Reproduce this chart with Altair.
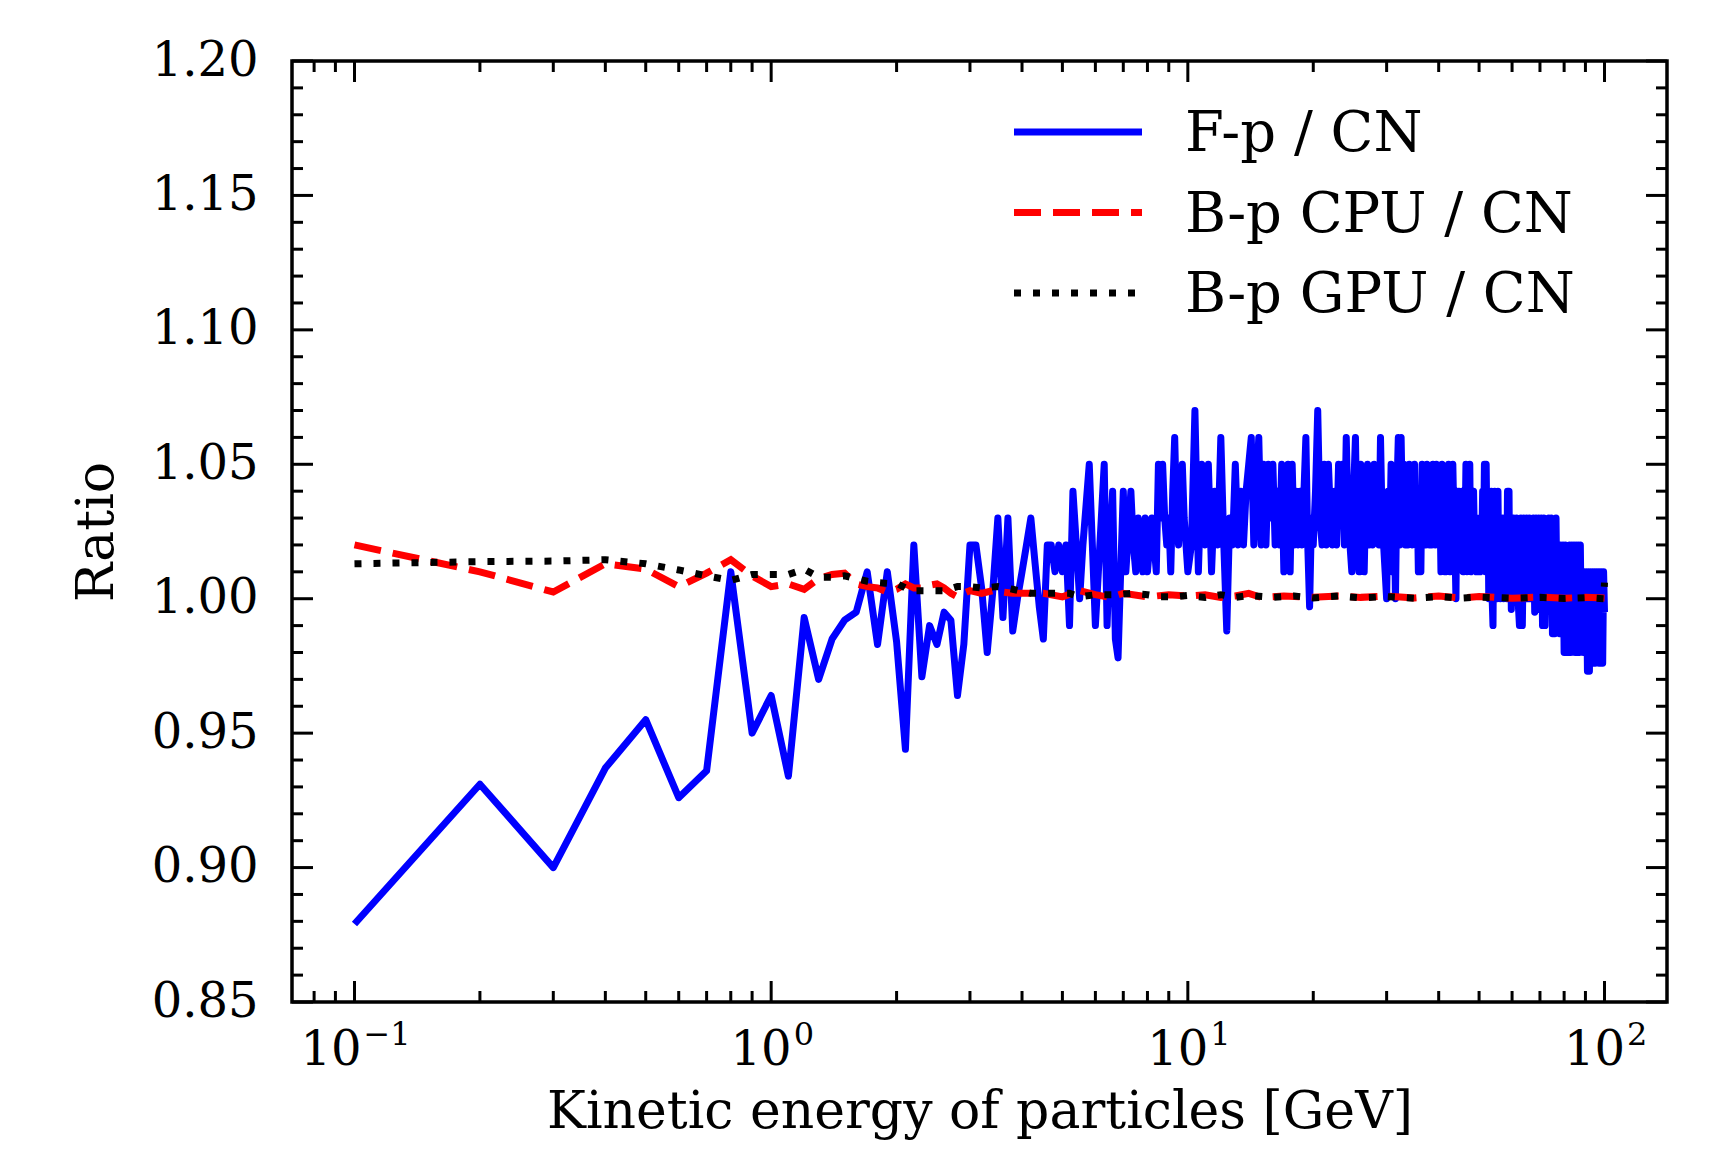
import altair as alt
import pandas as pd

# ---------------- data ----------------
series_names = ["F-p / CN", "B-p CPU / CN", "B-p GPU / CN"]

fp_energy_a = [0.1, 0.2, 0.3, 0.4, 0.5, 0.6, 0.7, 0.8, 0.9, 1.0,
               1.1, 1.2, 1.3, 1.4, 1.5, 1.6, 1.7, 1.8, 1.9, 2.0,
               2.1, 2.2, 2.3, 2.4, 2.5, 2.6, 2.7, 2.8, 2.9, 3.0,
               3.1, 3.2, 3.3, 3.4, 3.5, 3.6, 3.7, 3.8, 3.9, 4.0,
               4.1, 4.2, 4.3, 4.4, 4.5, 4.6, 4.7, 4.8, 4.9, 5.0,
               5.1, 5.2, 5.3, 5.4, 5.5, 5.6, 5.7, 5.8, 5.9, 6.0,
               6.1, 6.2, 6.3, 6.4, 6.5, 6.6, 6.7, 6.8, 6.9, 7.0,
               7.1, 7.2, 7.3, 7.4, 7.5, 7.6, 7.7, 7.8, 7.9, 8.0,
               8.1, 8.2, 8.3, 8.4, 8.5, 8.6, 8.7, 8.8, 8.9, 9.0,
               9.1, 9.2, 9.3, 9.4, 9.5, 9.6, 9.7, 9.8, 9.9, 10.0]
fp_ratio_a = [0.879, 0.931, 0.900, 0.937, 0.955, 0.926, 0.936, 1.010, 0.950, 0.964,
              0.934, 0.993, 0.970, 0.985, 0.992, 0.995, 1.010, 0.983, 1.010, 0.984,
              0.944, 1.020, 0.971, 0.990, 0.983, 0.995, 0.992, 0.964, 0.983, 1.020,
              1.020, 1.004, 0.980, 1.002, 1.030, 0.993, 1.030, 0.988, 1.000, 1.010,
              1.020, 1.030, 1.013, 0.997, 0.985, 1.020, 1.020, 1.010, 1.020, 1.010,
              1.020, 0.990, 1.040, 1.020, 1.000, 1.020, 1.035, 1.050, 1.020, 0.990,
              1.010, 1.030, 1.050, 0.990, 1.020, 1.040, 0.985, 0.978, 1.010, 1.040,
              1.010, 1.025, 1.040, 1.020, 1.010, 1.030, 1.020, 1.010, 1.030, 1.010,
              1.020, 1.030, 1.020, 1.010, 1.050, 1.030, 1.050, 1.030, 1.020, 1.030,
              1.010, 1.040, 1.060, 1.030, 1.020, 1.040, 1.050, 1.030, 1.020, 1.010]

fp_energy_b = [10.2, 10.4, 10.6, 10.8, 11.0, 11.2, 11.4, 11.6, 11.8, 12.0,
               12.2, 12.4, 12.6, 12.8, 13.0, 13.2, 13.4, 13.6, 13.8, 14.0,
               14.2, 14.4, 14.6, 14.8, 15.0, 15.2, 15.4, 15.6, 15.8, 16.0,
               16.2, 16.4, 16.6, 16.8, 17.0, 17.2, 17.4, 17.6, 17.8, 18.0,
               18.2, 18.4, 18.6, 18.8, 19.0, 19.2, 19.4, 19.6, 19.8, 20.0]
fp_ratio_b = [1.02, 1.07, 1.01, 1.05, 1.02, 1.05, 1.01, 1.04, 1.02, 1.06,
              1.02, 0.988, 1.03, 1.02, 1.05, 1.02, 1.04, 1.02, 1.04, 1.05,
              1.06, 1.02, 1.04, 1.06, 1.02, 1.05, 1.02, 1.05, 1.03, 1.05,
              1.02, 1.04, 1.02, 1.05, 1.01, 1.03, 1.05, 1.01, 1.05, 1.02,
              1.04, 1.02, 1.04, 1.02, 1.04, 1.06, 1.02, 0.997, 1.03, 1.02]

fp_energy_c = [20.25, 20.5, 20.75, 21.0, 21.25, 21.5, 21.75, 22.0, 22.25, 22.5, 22.75, 23.0,
               23.25, 23.5, 23.75, 24.0, 24.25, 24.5, 24.75, 25.0, 25.25, 25.5, 25.75, 26.0,
               26.25, 26.5, 26.75, 27.0, 27.25, 27.5, 27.75, 28.0, 28.25, 28.5, 28.75, 29.0,
               29.25, 29.5, 29.75, 30.0, 30.25, 30.5, 30.75, 31.0, 31.25, 31.5, 31.75, 32.0,
               32.25, 32.5, 32.75, 33.0, 33.25, 33.5, 33.75, 34.0, 34.25, 34.5, 34.75, 35.0,
               35.25, 35.5, 35.75, 36.0, 36.25, 36.5, 36.75, 37.0, 37.25, 37.5, 37.75, 38.0,
               38.25, 38.5, 38.75, 39.0, 39.25, 39.5, 39.75, 40.0, 40.25, 40.5, 40.75, 41.0,
               41.25, 41.5, 41.75, 42.0, 42.25, 42.5, 42.75, 43.0, 43.25, 43.5, 43.75, 44.0,
               44.25, 44.5, 44.75, 45.0, 45.25, 45.5, 45.75, 46.0, 46.25, 46.5, 46.75, 47.0,
               47.25, 47.5, 47.75, 48.0, 48.25, 48.5, 48.75, 49.0, 49.25, 49.5, 49.75, 50.0,
               50.25, 50.5, 50.75, 51.0, 51.25, 51.5, 51.75, 52.0, 52.25, 52.5, 52.75, 53.0,
               53.25, 53.5, 53.75, 54.0, 54.25, 54.5, 54.75, 55.0, 55.25, 55.5, 55.75, 56.0,
               56.25, 56.5, 56.75, 57.0, 57.25, 57.5, 57.75, 58.0, 58.25, 58.5, 58.75, 59.0,
               59.25, 59.5, 59.75, 60.0]
fp_ratio_c = [1.04, 1.07, 1.03, 1.02, 1.05, 1.02, 1.05, 1.03, 1.02, 1.04, 1.02, 1.05,
              1.03, 1.05, 1.02, 1.06, 1.03, 1.02, 1.01, 1.04, 1.06, 1.02, 1.01, 1.05,
              1.02, 1.01, 1.04, 1.05, 1.02, 1.04, 1.02, 1.05, 1.03, 1.04, 1.02, 1.06,
              1.03, 1.02, 1.01, 1.00, 1.04, 1.02, 1.05, 1.01, 1.04, 1.00, 1.04, 1.06,
              1.02, 1.06, 1.03, 1.05, 1.02, 1.04, 1.02, 1.05, 1.03, 1.02, 1.04, 1.05,
              1.02, 1.04, 1.01, 1.04, 1.01, 1.05, 1.02, 1.04, 1.02, 1.05, 1.03, 1.02,
              1.04, 1.02, 1.05, 1.03, 1.02, 1.05, 1.03, 1.02, 1.04, 1.01, 1.05, 1.02,
              1.04, 1.01, 1.04, 1.02, 1.05, 1.01, 1.03, 1.02, 1.05, 1.03, 1.02, 1.00,
              1.04, 1.02, 1.04, 1.02, 1.03, 1.04, 1.01, 1.03, 1.02, 1.05, 1.01, 1.04,
              1.02, 1.05, 1.01, 1.03, 1.02, 1.04, 1.02, 1.03, 1.01, 1.03, 1.02, 1.03,
              1.01, 1.03, 1.02, 1.04, 1.02, 1.05, 1.01, 1.05, 1.02, 1.04, 1.00, 1.04,
              1.01, 1.04, 1.00, 0.99, 1.03, 1.04, 1.01, 1.03, 1.00, 1.04, 1.01, 1.03,
              1.00, 1.03, 1.01, 1.03, 1.00, 1.03, 1.01, 1.03, 1.00, 1.04, 1.01, 1.04,
              1.00, 1.03, 0.996, 1.03]

fp_energy_d = [60.5, 61.0, 61.5, 62.0, 62.5, 63.0, 63.5, 64.0, 64.5, 65.0,
               65.5, 66.0, 66.5, 67.0, 67.5, 68.0, 68.5, 69.0, 69.5, 70.0,
               70.5, 71.0, 71.5, 72.0, 72.5, 73.0, 73.5, 74.0, 74.5, 75.0,
               75.5, 76.0, 76.5, 77.0, 77.5, 78.0, 78.5, 79.0, 79.5, 80.0,
               80.5, 81.0, 81.5, 82.0, 82.5, 83.0, 83.5, 84.0, 84.5, 85.0,
               85.5, 86.0, 86.5, 87.0, 87.5, 88.0, 88.5, 89.0, 89.5, 90.0,
               90.5, 91.0, 91.5, 92.0, 92.5, 93.0, 93.5, 94.0, 94.5, 95.0,
               95.5, 96.0, 96.5, 97.0, 97.5, 98.0, 98.5, 99.0, 99.5, 100.0]
fp_ratio_d = [1.03, 1.00, 1.03, 1.00, 0.99, 1.03, 0.99, 1.03, 1.00, 1.03,
              1.00, 1.03, 1.00, 1.02, 1.03, 0.995, 1.03, 0.996, 1.03, 1.00,
              1.03, 0.99, 1.03, 0.99, 1.02, 1.00, 1.03, 1.00, 1.03, 0.987,
              1.02, 0.987, 1.03, 0.99, 1.02, 0.987, 1.02, 0.99, 1.02, 0.98,
              1.02, 0.98, 1.01, 0.98, 1.02, 0.98, 1.02, 0.985, 1.02, 0.98,
              1.02, 0.98, 1.02, 0.98, 1.02, 0.985, 1.01, 0.98, 1.01, 0.98,
              1.01, 0.973, 1.01, 0.973, 1.01, 0.98, 1.01, 0.976, 1.01, 0.976,
              1.01, 0.98, 1.01, 0.976, 1.01, 0.976, 1.01, 0.976, 1.01, 0.995]

cpu_energy = [0.1, 0.2, 0.3, 0.4, 0.5, 0.6, 0.7, 0.8, 0.9, 1.0,
              1.1, 1.2, 1.3, 1.4, 1.5, 1.6, 1.7, 1.8, 1.9, 2.0,
              2.1, 2.2, 2.3, 2.4, 2.5, 2.6, 2.7, 2.8, 2.9, 3.0,
              3.2, 3.4, 3.6, 3.8, 4.0, 4.5, 5.0, 5.5, 6.0, 6.5,
              7.0, 8.0, 9.0, 10.0, 11.0, 12.0, 13.0, 14.0, 15.0, 17.0,
              20.0, 23.0, 26.0, 30.0, 35.0, 40.0, 45.0, 50.0, 60.0, 70.0,
              80.0, 90.0, 100.0]
cpu_ratio = [1.020, 1.010, 1.0025, 1.013, 1.011, 1.0045, 1.0095, 1.0145, 1.0085, 1.0045,
             1.0055, 1.0035, 1.0075, 1.009, 1.0095, 1.0055, 1.0045, 1.004, 1.0025, 1.0035,
             1.0055, 1.004, 1.004, 1.005, 1.0055, 1.004, 1.002, 1.0007, 1.002, 1.003,
             1.002, 1.003, 1.0025, 1.002, 1.002, 1.002, 1.0007, 1.003, 1.0015, 1.0005,
             1.002, 1.0007, 1.0015, 1.001, 1.0015, 1.0005, 1.001, 1.002, 1.0005, 1.001,
             1.0005, 1.001, 1.0005, 1.001, 1.0003, 1.001, 1.0003, 1.0008, 1.0002, 1.0006,
             1.0002, 1.0005, 1.0003]

gpu_energy = [0.1, 0.2, 0.3, 0.4, 0.5, 0.6, 0.7, 0.8, 0.9, 1.0,
              1.1, 1.2, 1.3, 1.4, 1.5, 1.6, 1.7, 1.8, 1.9, 2.0, 2.1,
              2.2, 2.4, 2.6, 2.8, 3.0, 3.2, 3.5, 3.8, 4.2, 4.6,
              5.2, 5.5, 6.0, 6.8, 7.3, 8.0, 8.6, 9.3, 10.0, 11.0,
              12.0, 13.0, 14.0, 16.0, 18.0, 20.0, 23.0, 26.0, 30.0, 35.0,
              40.0, 45.0, 50.0, 60.0, 70.0, 80.0, 90.0, 99.5, 100.0]
gpu_ratio = [1.013, 1.0138, 1.014, 1.0145, 1.013, 1.0107, 1.0085, 1.0068, 1.009, 1.009,
             1.009, 1.011, 1.008, 1.008, 1.0085, 1.0075, 1.0065, 1.006, 1.0057, 1.0057, 1.004,
             1.003, 1.003, 1.003, 1.0045, 1.0045, 1.004, 1.0045, 1.0035, 1.002, 1.002,
             1.002, 1.0007, 1.0015, 1.0015, 1.002, 1.0015, 1.0007, 1.0007, 1.0012, 1.0005,
             1.0015, 1.0005, 1.0012, 1.0005, 1.001, 1.0003, 1.001, 1.0003, 1.0008, 1.0002,
             1.0008, 1.0002, 1.0006, 1.0002, 1.0005, 1.0001, 1.0004, 1.0, 1.006]

# axis ticks (matplotlib-style, inward, on all four sides)
y_major = [0.85, 0.90, 0.95, 1.00, 1.05, 1.10, 1.15, 1.20]
y_minor = [0.86, 0.87, 0.88, 0.89, 0.91, 0.92, 0.93, 0.94, 0.96, 0.97, 0.98, 0.99,
           1.01, 1.02, 1.03, 1.04, 1.06, 1.07, 1.08, 1.09, 1.11, 1.12, 1.13, 1.14,
           1.16, 1.17, 1.18, 1.19]
x_major = [0.1, 1.0, 10.0, 100.0]
x_major_exponents = ["−1", "0", "1", "2"]
x_minor = [0.08, 0.09, 0.2, 0.3, 0.4, 0.5, 0.6, 0.7, 0.8, 0.9,
           2, 3, 4, 5, 6, 7, 8, 9, 20, 30, 40, 50, 60, 70, 80, 90]

# ---------------- styling ----------------
W, H = 1375, 941
FONT = "DejaVu Serif"
FS = 48
LW = 7
MAJ, MIN = 21, 11

x_scale = alt.Scale(type="log", domain=[0.0708, 141.25], nice=False)
y_scale = alt.Scale(domain=[0.85, 1.20], nice=False, zero=False)

x_axis = alt.Axis(values=x_major, ticks=False, domain=False, grid=False, labels=False,
                  title="Kinetic energy of particles [GeV]", titlePadding=84)
y_axis = alt.Axis(values=y_major, format=".2f", ticks=False, domain=False, grid=False,
                  labelPadding=34, labelFlush=False, labelOverlap=False,
                  title="Ratio", titlePadding=28)


def X(field):
    return alt.X(f"{field}:Q", scale=x_scale, axis=x_axis)


def Y(field):
    return alt.Y(f"{field}:Q", scale=y_scale, axis=y_axis)


fp_df = pd.DataFrame({"energy": fp_energy_a + fp_energy_b + fp_energy_c + fp_energy_d,
                      "ratio": fp_ratio_a + fp_ratio_b + fp_ratio_c + fp_ratio_d})
cpu_df = pd.DataFrame({"energy": cpu_energy, "ratio": cpu_ratio})
gpu_df = pd.DataFrame({"energy": gpu_energy, "ratio": gpu_ratio})

fp_line = alt.Chart(fp_df).mark_line(color="#0000ff", strokeWidth=LW, strokeJoin="round").encode(
    x=X("energy"), y=Y("ratio"))
cpu_line = alt.Chart(cpu_df).mark_line(color="#ff0000", strokeWidth=LW, strokeDash=[27, 12]).encode(
    x=X("energy"), y=Y("ratio"))
gpu_line = alt.Chart(gpu_df).mark_line(color="#000000", strokeWidth=LW, strokeDash=[7, 12]).encode(
    x=X("energy"), y=Y("ratio"))

ymaj = pd.DataFrame({"v": y_major})
ymin = pd.DataFrame({"v": y_minor})
xmaj = pd.DataFrame({"e": x_major})
xmin = pd.DataFrame({"e": x_minor})

tick_layers = []
for df, L in [(ymaj, MAJ), (ymin, MIN)]:
    tick_layers.append(alt.Chart(df).mark_rule(color="black", strokeWidth=3).encode(
        y=Y("v"), x=alt.value(0), x2=alt.value(L)))
    tick_layers.append(alt.Chart(df).mark_rule(color="black", strokeWidth=3).encode(
        y=Y("v"), x=alt.value(W - L), x2=alt.value(W)))
for df, L in [(xmaj, MAJ), (xmin, MIN)]:
    tick_layers.append(alt.Chart(df).mark_rule(color="black", strokeWidth=3).encode(
        x=X("e"), y=alt.value(H), y2=alt.value(H - L)))
    tick_layers.append(alt.Chart(df).mark_rule(color="black", strokeWidth=3).encode(
        x=X("e"), y=alt.value(0), y2=alt.value(L)))

# x tick labels as 10^n (base + raised exponent)
SUP_FS = 32
label_layers = []
for val, ex in zip(x_major, x_major_exponents):
    w_base = 61
    w_sup = 20 if len(ex) == 1 else 47
    shift = (w_base - w_sup) / 2
    df = pd.DataFrame({"e": [val], "base": ["10"], "sup": [ex]})
    label_layers.append(alt.Chart(df).mark_text(
        align="right", baseline="alphabetic", font=FONT, fontSize=FS, color="black", dx=shift).encode(
        x=X("e"), y=alt.value(H + 63), text="base:N"))
    label_layers.append(alt.Chart(df).mark_text(
        align="left", baseline="alphabetic", font=FONT, fontSize=SUP_FS, color="black", dx=shift + 2).encode(
        x=X("e"), y=alt.value(H + 43), text="sup:N"))

# legend (upper right, inside the axes)
LFS = 56
legend_styles = [("#0000ff", None), ("#ff0000", [27, 12]), ("#000000", [7, 12])]
legend_layers = []
for i, (name, (col, dash)) in enumerate(zip(series_names, legend_styles)):
    ly = 71 + i * 80.5
    df = pd.DataFrame({"label": [name]})
    kw = dict(color=col, strokeWidth=LW)
    if dash is not None:
        kw["strokeDash"] = dash
    legend_layers.append(alt.Chart(df).mark_rule(**kw).encode(
        x=alt.value(722), x2=alt.value(850), y=alt.value(ly)))
    legend_layers.append(alt.Chart(df).mark_text(
        align="left", baseline="alphabetic", font=FONT, fontSize=LFS, color="black").encode(
        x=alt.value(893), y=alt.value(ly + 19), text="label:N"))

chart = alt.layer(fp_line, cpu_line, gpu_line, *tick_layers, *label_layers, *legend_layers).properties(
    width=W, height=H,
    padding={"left": 284, "top": 53, "right": 61, "bottom": 141},
    autosize=alt.AutoSizeParams(type="none"),
    background="white",
).configure_view(
    stroke="black", strokeWidth=3.5
).configure_axis(
    labelFont=FONT, labelFontSize=FS, labelColor="black",
    titleFont=FONT, titleFontSize=52, titleFontWeight="normal", titleColor="black",
)

chart.save("out.html", embed_options={"renderer": "svg", "actions": False})
